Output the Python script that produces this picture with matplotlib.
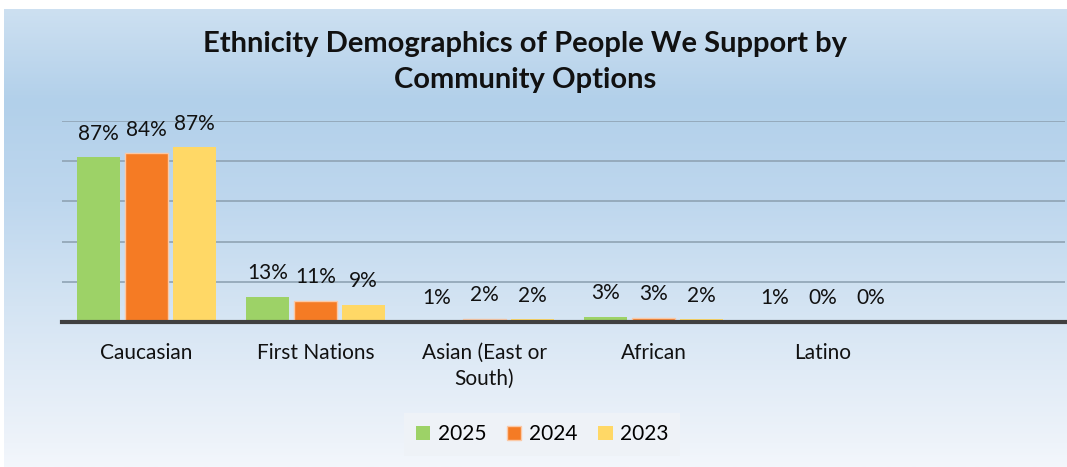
import numpy as np
import matplotlib
matplotlib.use("Agg")
from matplotlib import pyplot as plt
from matplotlib.colors import LinearSegmentedColormap

plt.rcParams['font.family'] = ['Lato', 'DejaVu Sans']

categories = ['Caucasian', 'First Nations', 'Asian (East or\nSouth)', 'African', 'Latino']
years = ['2025', '2024', '2023']
# bar heights as drawn in the source chart
heights_2025 = [82, 12.5, 0, 2.5, 0]
heights_2024 = [84, 10.5, 1.5, 2, 0]
heights_2023 = [87, 8.5, 1.3, 1.3, 0]
# data labels as printed in the source chart
labels_2025 = ['87%', '13%', '1%', '3%', '1%']
labels_2024 = ['84%', '11%', '2%', '3%', '0%']
labels_2023 = ['87%', '9%', '2%', '2%', '0%']

colors = ['#9dd267', '#f57b24', '#ffd866']
title = 'Ethnicity Demographics of People We Support by\nCommunity Options'

fig = plt.figure(figsize=(10.67, 4.67), dpi=100)
fig.patch.set_facecolor('white')

# gradient background
bg = fig.add_axes([4/1067, 0, 1, (467-9)/467])
bg.axis('off')
grad = LinearSegmentedColormap.from_list('bg', [
    (0.0, '#cde0f1'), (0.2, '#b2d0ea'), (0.42, '#bed7ee'),
    (0.65, '#d4e4f3'), (0.95, '#eef3fa'), (1.0, '#f3f7fc')])
bg.imshow(np.linspace(0, 1, 256).reshape(-1, 1), aspect='auto', cmap=grad,
          extent=[0, 1, 0, 1])

ax = fig.add_axes([62/1067, 1-322/467, (1065-62)/1067, (322-121)/467])
ax.set_facecolor('none')

x = np.arange(len(categories))
w = 0.26
step = 0.284
series = [heights_2025, heights_2024, heights_2023]
labs = [labels_2025, labels_2024, labels_2023]
for i in range(3):
    xs = x + (i-1)*step
    edge = '#fbc9a6' if i == 1 else 'none'
    ax.bar(xs, series[i], w, color=colors[i], edgecolor=edge, linewidth=1,
           label=years[i], zorder=3)
    for j in range(len(categories)):
        ax.annotate(labs[i][j], (xs[j], series[i][j]), xytext=(0, 17),
                    textcoords='offset points', ha='center', va='center',
                    fontsize=15, color='#111111', zorder=4)

ax.set_ylim(0, 100)
ax.set_xlim(-0.5, 5.435)
ax.set_yticks([20, 40, 60, 80, 100])
ax.yaxis.grid(True, color='#8fa3b4', linewidth=1.2, zorder=0)
ax.tick_params(axis='y', length=0, labelleft=False)
ax.set_xticks(x)
ax.set_xticklabels(categories, fontsize=15, color='#111111', linespacing=1.35)
ax.tick_params(axis='x', length=0, pad=15)
for s in ['top', 'right', 'left']:
    ax.spines[s].set_visible(False)
ax.spines['bottom'].set_color('#404040')
ax.spines['bottom'].set_linewidth(3)
ax.spines['bottom'].set_zorder(5)

fig.text(0.492, 1-62/467, title, ha='center', va='center', fontsize=21,
         fontweight='bold', color='#111111', linespacing=1.45)

leg = ax.legend(loc='center', bbox_to_anchor=(0.508, 0.07),
                bbox_transform=fig.transFigure, ncol=3, fontsize=15,
                frameon=True, fancybox=False, handlelength=0.7, handleheight=0.7,
                handletextpad=0.35, columnspacing=1.0, borderpad=0.55)
leg.get_frame().set_facecolor('#eef2f7')
leg.get_frame().set_edgecolor('none')
leg.get_frame().set_alpha(1)

fig.savefig('out.png', dpi=100)
